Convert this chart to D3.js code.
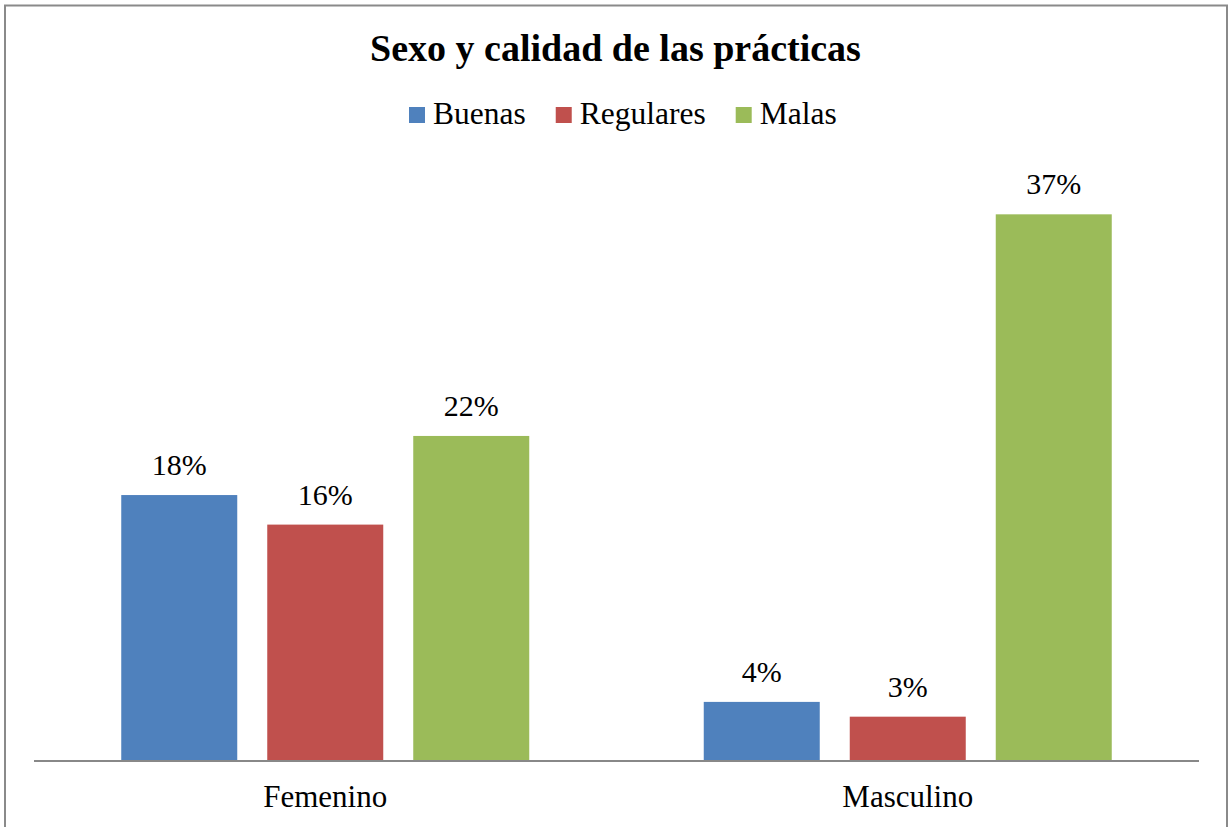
<!DOCTYPE html>
<html>
<head>
<meta charset="utf-8">
<script src="https://cdn.jsdelivr.net/npm/d3@7"></script>
<style>
  html, body { margin: 0; padding: 0; background: #fff; }
  svg { display: block; }
  svg text { font-family: "Liberation Serif", "Times New Roman", Tinos, serif; fill: #000; }
</style>
</head>
<body>
<svg id="chart" width="1228" height="827"></svg>
<script>
const title = "Sexo y calidad de las prácticas";
const categories = ["Femenino", "Masculino"];
const seriesNames = ["Buenas", "Regulares", "Malas"];
const seriesColors = ["#4F81BD", "#C0504D", "#9BBB59"];
const buenas = [0.18, 0.04];
const regulares = [0.16, 0.03];
const malas = [0.22, 0.37];
const seriesValues = [buenas, regulares, malas];
const yMax = 0.40;

const FONT = "'Liberation Serif', 'Times New Roman', Tinos, serif";
const svg = d3.select("#chart");

// outer border
svg.append("rect")
  .attr("x", 5).attr("y", 5.5)
  .attr("width", 1222).attr("height", 840)
  .attr("fill", "none").attr("stroke", "#8a8a8a").attr("stroke-width", 2);

const plot = { left: 34, right: 1199, top: 170, bottom: 761 };

const x0 = d3.scaleBand().domain(categories).range([plot.left, plot.right]).padding(0);
const groupW = 408;
const x1 = d3.scaleBand().domain(seriesNames)
  .range([0, groupW]).paddingInner(30 / 146).paddingOuter(0);
const groupOffset = (x0.bandwidth() - groupW) / 2;
const y = d3.scaleLinear().domain([0, yMax]).range([plot.bottom, plot.top]);

const data = [];
categories.forEach((c, ci) => {
  seriesNames.forEach((s, si) => {
    data.push({ cat: c, series: s, value: seriesValues[si][ci], color: seriesColors[si] });
  });
});

const fmt = d3.format(".0%");

svg.append("g").selectAll("rect")
  .data(data).join("rect")
  .attr("x", d => x0(d.cat) + groupOffset + x1(d.series))
  .attr("y", d => y(d.value))
  .attr("width", x1.bandwidth())
  .attr("height", d => y(0) - y(d.value))
  .attr("fill", d => d.color);

svg.append("g").selectAll("text")
  .data(data).join("text")
  .attr("x", d => x0(d.cat) + groupOffset + x1(d.series) + x1.bandwidth() / 2)
  .attr("y", d => y(d.value) - 20)
  .attr("text-anchor", "middle")
  .style("font-family", FONT)
  .style("font-size", "30px")
  .text(d => fmt(d.value));

// x axis
const xAxis = svg.append("g")
  .attr("transform", `translate(0,${plot.bottom})`)
  .call(d3.axisBottom(x0).tickSize(0).tickPadding(0));
xAxis.select(".domain").attr("stroke", "#888").attr("stroke-width", 2)
  .attr("d", `M${plot.left},0H${plot.right}`);
xAxis.selectAll(".tick text")
  .attr("y", 46).attr("dy", null)
  .style("font-size", "31px")
  .style("font-family", FONT)
  .attr("fill", "#000");

// title
svg.append("text")
  .attr("x", 615.5).attr("y", 61)
  .attr("text-anchor", "middle")
  .style("font-family", FONT)
  .style("font-size", "38px").style("font-weight", "bold")
  .text(title);

// legend
const legend = svg.append("g");
let lx = 409;
seriesNames.forEach((s, i) => {
  legend.append("rect")
    .attr("x", lx).attr("y", 107).attr("width", 16).attr("height", 16)
    .attr("fill", seriesColors[i]);
  const t = legend.append("text")
    .attr("x", lx + 24).attr("y", 124)
    .style("font-family", FONT)
    .style("font-size", "31.5px")
    .text(s);
  lx += 24 + t.node().getComputedTextLength() + 30;
});
</script>
</body>
</html>
